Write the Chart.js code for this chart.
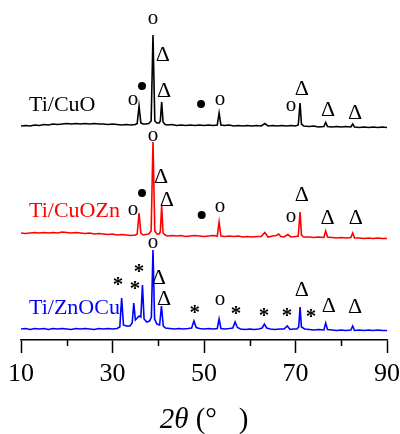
<!DOCTYPE html>
<html>
<head>
<meta charset="utf-8">
<script src="https://cdn.jsdelivr.net/npm/chart.js@4"></script>
<style>
  body { margin: 0; background: #fff; }
  #box { width: 400px; height: 434px; }
</style>
</head>
<body>
<div id="box"><canvas id="xrd"></canvas></div>
<script>
var cuoPattern = [[10,-1],[11,-0.5],[12,-1],[13,0],[14,-0.5],[15,0.5],[16,0],[17,1],[18,0.5],[19,1],[20,1.5],[21,1],[22,1.5],[23,1],[24,1.5],[25,1],[26,1.5],[27,1],[28,1],[29,0.5],[30,1],[31,0.5],[32,0],[33,0.5],[34,0],[35,0.5],[35.4,1.5],[35.8,19],[36.2,2],[36.7,1],[37.3,1],[37.9,1.5],[38.45,4],[38.85,90],[39.25,4],[39.7,2],[40.2,2],[40.45,4],[40.75,23],[41.05,3],[41.5,0.5],[42,0],[43,0.5],[44,-0.5],[45,0],[46,-0.5],[47,0],[48,-0.5],[49,0],[50,-0.5],[51,0],[52,-0.5],[52.9,0],[53.3,12],[53.7,0],[54.5,-0.5],[55.5,0],[56.5,-1],[57.5,-0.5],[58.5,-1],[59.5,-0.5],[60.5,-1],[61.5,-0.5],[62.5,-1],[63.3,1.5],[64,-1],[65,-0.5],[66,-1],[67,-0.5],[68,-1],[69,-0.5],[70,-1],[70.6,0],[71.0,22],[71.3,1],[71.8,-1],[73,-1.5],[74,-1],[75,-2],[76.2,-1.5],[76.6,2.5],[77,-1.5],[78,-2],[79,-1.5],[80,-2],[81,-1.5],[82.1,-2],[82.5,1],[82.9,-2],[84,-2.5],[85,-2],[86,-2.5],[87,-2],[88,-2.5],[89,-2],[90,-2.5]];

var cuoznPattern = [[10,3],[11,2.5],[12,3],[13,3.5],[14,3],[15,3.5],[16,3],[17,3.5],[18,3],[19,4],[20,3.5],[21,3],[22,3.5],[23,3],[24,2.5],[25,3],[26,2],[27,2.5],[28,2],[29,1.5],[30,2],[31,1],[32,1.5],[33,1],[34,0.5],[35,1],[35.4,2],[35.8,23],[36.2,3],[36.7,1],[37.3,1.5],[37.9,2],[38.45,5],[38.85,94],[39.25,5],[39.7,2],[40.2,2],[40.45,4],[40.75,30],[41.05,3],[41.5,1],[42,0],[43,0.5],[44,0],[45,0.5],[46,-0.5],[47,0],[48,0.5],[49,0],[50,-0.5],[51,0],[52,0.5],[52.9,0],[53.3,14],[53.7,0],[54.5,-0.5],[55.5,0],[56.5,-0.5],[57.5,0],[58.5,-1],[59.5,-0.5],[60.5,-1],[61.5,-0.5],[62.5,-0.5],[63.3,3.5],[64,-1],[65,0],[65.8,0.5],[66.3,2],[66.8,-0.5],[67.5,-1],[68.3,1.5],[69,-1],[70,-0.5],[70.6,0],[71.0,24],[71.3,1],[71.8,-1],[73,-1],[74,-1.5],[75,-1],[76.2,-1.5],[76.6,5],[77,-1],[78,-1.5],[79,-2],[80,-1.5],[81,-2],[82.1,-1.5],[82.5,3],[82.9,-2],[84,-2],[85,-2.5],[86,-2],[87,-2.5],[88,-2],[89,-2.5],[90,-2.5]];

var znocuPattern = [[10,0],[11,0.5],[12,-0.5],[13,0.5],[14,0],[15,0.5],[16,-0.5],[17,0.5],[18,0],[19,0.5],[20,0],[21,-0.5],[22,0.5],[23,0],[24,0.5],[25,0],[26,-0.5],[27,0.5],[28,0],[29,0.5],[30,0],[31,0.5],[31.6,2],[32.0,31],[32.4,4],[33,3],[33.8,3],[34.3,6],[34.65,26],[35.0,9],[35.4,11],[35.8,13],[36.2,12],[36.55,44],[36.9,10],[37.5,7],[38.1,8],[38.5,12],[38.85,79],[39.2,10],[39.7,5],[40.3,4],[40.7,23],[41.1,3],[41.6,1],[42.5,0.5],[43.5,0],[44.5,0.5],[45.5,0],[46.5,0.5],[47.3,1],[47.8,8],[48.3,1.5],[49,0.5],[50,0],[51,0.5],[52,0],[52.9,0.5],[53.3,10],[53.7,0.5],[54.5,0],[55.5,0.5],[56.3,1],[56.8,7],[57.3,1.5],[58,0],[59,-0.5],[60,0],[61,-0.5],[62,0],[62.7,1],[63.2,5],[63.7,1],[64.5,0],[65.5,-0.5],[66.5,0],[67.5,0],[68.2,3],[68.8,-0.5],[69.5,0],[70.3,0],[70.7,2],[71.0,22],[71.3,2],[72,0],[73,-0.5],[74,-1],[75,-0.5],[76.2,-1],[76.6,6],[77,-0.5],[78,-1],[79,-1.5],[80,-1],[81,-1.5],[82.1,-1],[82.5,3],[82.9,-1.5],[84,-1],[85,-1.5],[86,-1],[87,-1.5],[88,-1],[89,-1.5],[90,-1.5]];

var sampleNames = ["Ti/CuO", "Ti/CuOZn", "Ti/ZnOCu"];
var sampleColors = ["#000000", "#ff0000", "#0000ff"];
var sampleOffsets = [215, 104, 11];   // vertical stacking of the traces

// phase marks: o, Δ (Ti), • , * (ZnO) — [2theta, height, symbol]
var cuoMarks = [[38.85,321,"o"],[41.0,286,"Δ"],[36.45,254,"•"],[41.25,250,"Δ"],[34.5,240,"o"],[49.35,236,"•"],[53.5,240,"o"],[69.0,234,"o"],[71.4,252,"Δ"],[77.1,231,"Δ"],[83.0,228,"Δ"]];
var cuoznMarks = [[38.85,204,"o"],[40.6,164,"Δ"],[36.45,147,"•"],[41.9,141,"Δ"],[34.5,130,"o"],[49.5,125,"•"],[53.5,133,"o"],[69.0,123,"o"],[71.4,146,"Δ"],[77.0,123,"Δ"],[83.2,123,"Δ"]];
var znocuMarks = [[38.85,97,"o"],[31.2,59,"*"],[35.8,72,"*"],[34.9,55,"*"],[40.15,63,"Δ"],[41.25,42,"Δ"],[48.0,31,"*"],[53.5,40,"o"],[57.0,30,"*"],[63.1,28,"*"],[68.15,28,"*"],[71.4,51,"Δ"],[73.4,27,"*"],[77.3,35,"Δ"],[83.0,34,"Δ"]];

var nameSpots = [[11.75,235],[11.75,129],[11.75,32]];
var tickLabels = [10, 30, 50, 70, 90];
var minorTicks = [20, 40, 60, 80];

var serif = "'Liberation Serif', 'Times New Roman', serif";

function toPoints(pattern, offset) {
  return pattern.map(function (p) { return { x: p[0], y: p[1] + offset }; });
}

var patterns = [cuoPattern, cuoznPattern, znocuPattern];
var datasets = patterns.map(function (pat, i) {
  return {
    label: sampleNames[i],
    data: toPoints(pat, sampleOffsets[i]),
    borderColor: sampleColors[i],
    borderWidth: 1.6,
    pointRadius: 0,
    tension: 0,
    fill: false
  };
});

var marksPlugin = {
  id: "marks",
  afterDatasetsDraw: function (chart) {
    var ctx = chart.ctx;
    var xs = chart.scales.x, ys = chart.scales.y;
    ctx.save();
    [cuoMarks, cuoznMarks, znocuMarks].forEach(function (list) {
      list.forEach(function (m) {
        var px = xs.getPixelForValue(m[0]);
        var py = ys.getPixelForValue(m[1]);
        ctx.fillStyle = "#000";
        if (m[2] === "•") {
          ctx.beginPath();
          ctx.arc(px, py, 4, 0, Math.PI * 2);
          ctx.fill();
          return;
        }
        if (m[2] === "*") ctx.font = "bold 21px " + serif;
        else if (m[2] === "o") ctx.font = "21px " + serif;
        else ctx.font = "22px " + serif;
        ctx.textAlign = "center";
        ctx.textBaseline = "alphabetic";
        var mt = ctx.measureText(m[2]);
        var mid = (mt.actualBoundingBoxAscent - mt.actualBoundingBoxDescent) / 2;
        ctx.fillText(m[2], px, py + mid);
      });
    });

    // sample names
    ctx.font = "22px " + serif;
    ctx.textAlign = "left";
    ctx.textBaseline = "middle";
    nameSpots.forEach(function (s, i) {
      ctx.fillStyle = sampleColors[i];
      ctx.fillText(sampleNames[i], xs.getPixelForValue(s[0]), ys.getPixelForValue(s[1]));
    });

    // minor ticks
    ctx.strokeStyle = "#000";
    ctx.lineWidth = 1.5;
    var base = chart.chartArea.bottom;
    minorTicks.forEach(function (v) {
      var px = Math.round(xs.getPixelForValue(v)) + 0.5;
      ctx.beginPath();
      ctx.moveTo(px, base);
      ctx.lineTo(px, base + 6);
      ctx.stroke();
    });

    // axis title: 2θ (°)
    var cx = (chart.chartArea.left + chart.chartArea.right) / 2;
    var ty = 420;
    ctx.fillStyle = "#000";
    ctx.textBaseline = "middle";
    ctx.font = "italic 29px " + serif;
    var a = "2θ";
    var wa = ctx.measureText(a).width;
    ctx.font = "29px " + serif;
    var b = " (°   )";
    var wb = ctx.measureText(b).width;
    var x0 = cx - (wa + wb) / 2;
    ctx.textAlign = "left";
    ctx.font = "italic 29px " + serif;
    ctx.fillText(a, x0, ty);
    ctx.font = "29px " + serif;
    ctx.fillText(b, x0 + wa, ty);
    ctx.restore();
  }
};

new Chart("xrd", {
  type: "line",
  data: { datasets: datasets },
  options: {
    responsive: true,
    maintainAspectRatio: false,
    animation: false,
    layout: { padding: { left: 21, right: 13, top: 0, bottom: 44 } },
    plugins: {
      legend: { display: false },
      title: { display: false },
      tooltip: { enabled: false }
    },
    scales: {
      x: {
        type: "linear",
        min: 10,
        max: 90,
        border: { display: true, color: "#000", width: 1.5 },
        grid: {
          drawOnChartArea: false,
          drawTicks: true,
          tickLength: 13,
          tickWidth: 1.5,
          tickColor: function (c) {
            return tickLabels.indexOf(c.tick.value) >= 0 ? "#000" : "rgba(0,0,0,0)";
          }
        },
        ticks: {
          stepSize: 10,
          padding: 6,
          maxRotation: 0,
          autoSkip: false,
          color: "#000",
          font: { family: serif, size: 26 },
          callback: function (v) { return tickLabels.indexOf(v) >= 0 ? v : ""; }
        },
        afterFit: function (scale) {
          scale.height = 50;
          scale.paddingLeft = 13;
          scale.paddingRight = 13;
        }
      },
      y: {
        display: false,
        min: 0,
        max: 340
      }
    }
  },
  plugins: [marksPlugin]
});
</script>
</body>
</html>
